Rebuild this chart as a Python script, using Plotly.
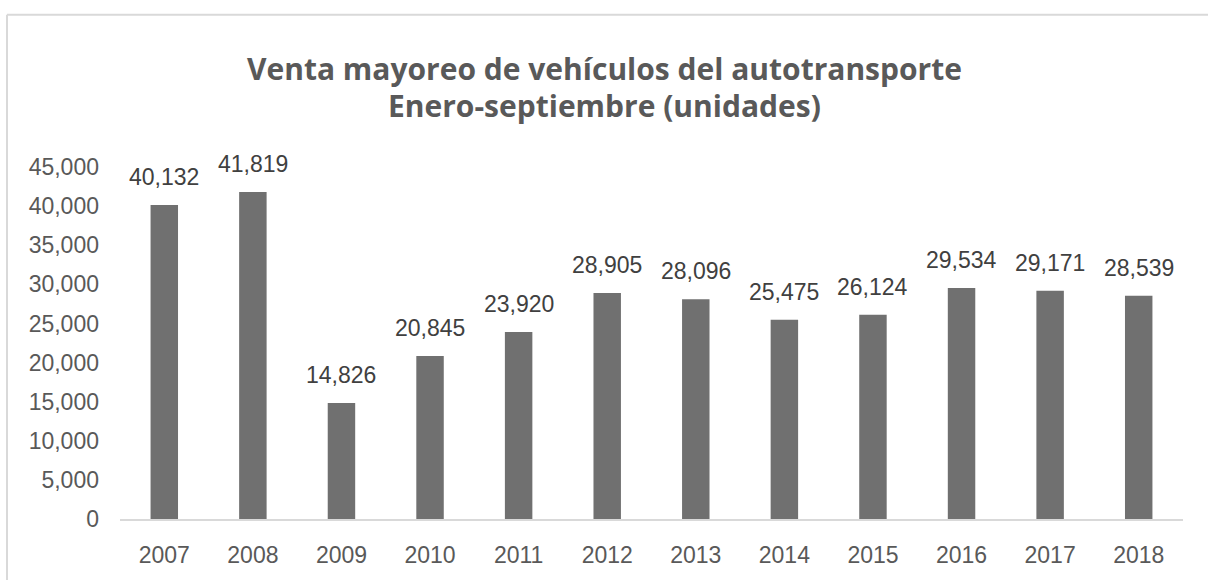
import plotly.graph_objects as go

years = ["2007", "2008", "2009", "2010", "2011", "2012", "2013", "2014", "2015", "2016", "2017", "2018"]
units = [40132, 41819, 14826, 20845, 23920, 28905, 28096, 25475, 26124, 29534, 29171, 28539]
title_line1 = "Venta mayoreo de vehículos del autotransporte"
title_line2 = "Enero-septiembre (unidades)"
y_ticks = list(range(0, 45001, 5000))

W, H = 1208, 580
L, R, T, B = 120, 25, 167, 57
PW, PH = W - L - R, H - T - B


def px_x(px):
    return (px - L) / PW


def px_y(py):
    return (H - B - py) / PH


fig = go.Figure()
fig.add_trace(go.Bar(
    x=years, y=units,
    marker=dict(color="#707070", line=dict(width=0)),
    hoverinfo="x+y",
))

annotations = []
for i, v in enumerate(units):
    annotations.append(dict(
        x=i, y=v, xref="x", yref="y", text=f"{v:,}", showarrow=False,
        yanchor="bottom", yshift=13,
        font=dict(family="Liberation Sans, Arial, sans-serif", size=23, color="#404040"),
    ))

for txt, cy in [(title_line1, 67), (title_line2, 105)]:
    annotations.append(dict(
        x=px_x(604), y=px_y(cy), xref="paper", yref="paper", text=f"<b>{txt}</b>",
        showarrow=False, xanchor="center", yanchor="middle",
        font=dict(family="Open Sans, sans-serif", size=30, color="#595959"),
    ))

fig.update_layout(
    width=W, height=H,
    margin=dict(l=L, r=R, t=T, b=B, pad=0),
    paper_bgcolor="white", plot_bgcolor="white",
    bargap=0.69,
    showlegend=False,
    annotations=annotations,
    shapes=[
        dict(type="line", xref="paper", yref="paper", x0=px_x(7), x1=px_x(1220), y0=px_y(13), y1=px_y(13),
             line=dict(color="#d9d9d9", width=2)),
        dict(type="line", xref="paper", yref="paper", x0=px_x(7), x1=px_x(7), y0=px_y(13), y1=px_y(600),
             line=dict(color="#d9d9d9", width=2)),
    ],
    xaxis=dict(
        type="category", range=[-0.5, len(years) - 0.5],
        showgrid=False, showline=True, linecolor="#d9d9d9", linewidth=2,
        ticks="", ticklabelstandoff=14,
        tickfont=dict(family="Liberation Sans, Arial, sans-serif", size=23, color="#595959"),
    ),
    yaxis=dict(
        range=[0, 45000], tickvals=y_ticks, tickformat=",d",
        showgrid=False, showline=False, zeroline=False, ticks="",
        ticklabelstandoff=20,
        tickfont=dict(family="Liberation Sans, Arial, sans-serif", size=23, color="#595959"),
    ),
)

fig.write_html("out.html")
